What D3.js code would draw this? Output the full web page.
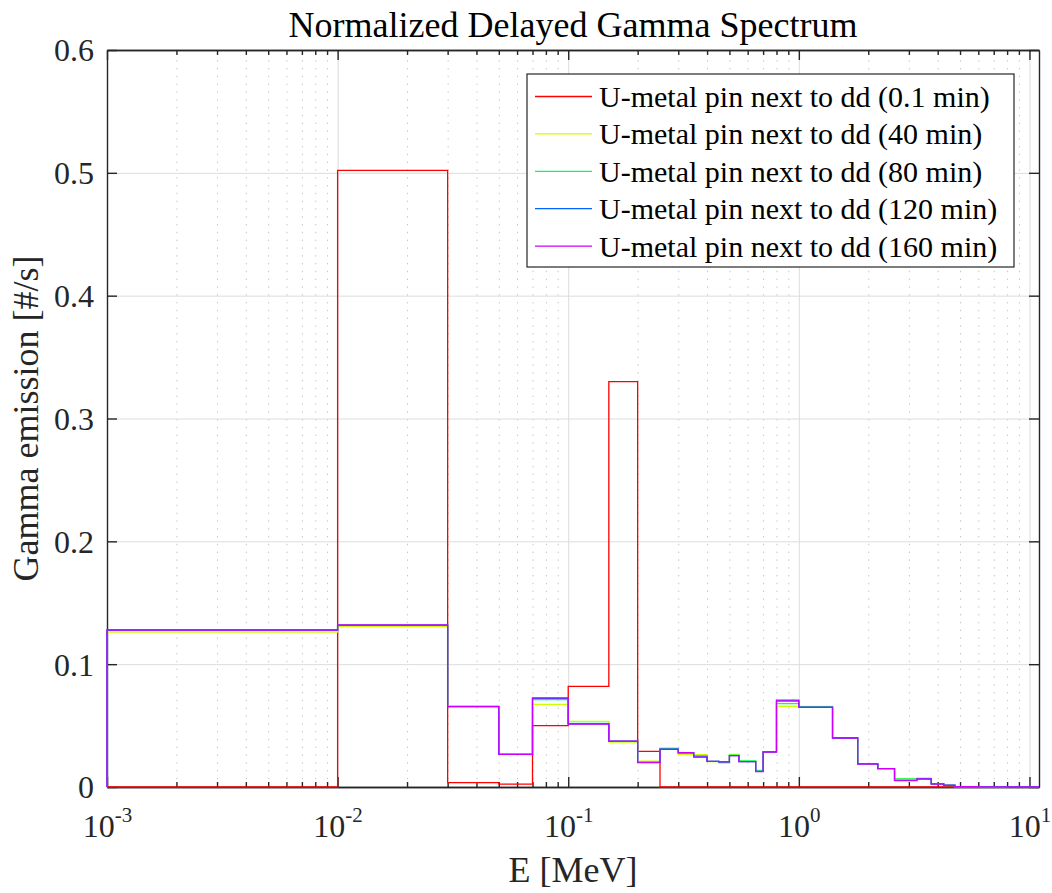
<!DOCTYPE html>
<html>
<head>
<meta charset="utf-8">
<script src="https://cdn.jsdelivr.net/npm/d3@7"></script>
<style>
  body { margin: 0; background: #fff; }
  svg { display: block; font-family: "Liberation Serif", "Times New Roman", serif; }
</style>
</head>
<body>
<svg id="chart" width="1052" height="893"></svg>
<script>
// Energy group boundaries [MeV]
const energyEdges = [0.001, 0.01, 0.03, 0.05, 0.07, 0.1, 0.15, 0.2, 0.25, 0.3, 0.35, 0.4, 0.45, 0.5,
  0.55, 0.65, 0.7, 0.8, 1.0, 1.4, 1.8, 2.2, 2.6, 3.25, 3.75, 4.25, 4.75, 6, 8, 11];

// Normalized delayed gamma emission per group, one array per cooling time
const pin01min = [0, 0.502, 0.0035, 0.0024, 0.0499, 0.082, 0.33, 0.029, 0, 0, 0, 0, 0, 0,
  0, 0, 0, 0, 0, 0, 0, 0, 0, 0, 0, 0, 0, 0, 0];
const pin40min = [0.1262, 0.1308, 0.0662, 0.0268, 0.0673, 0.0535, 0.0366, 0.0210, 0.0318, 0.0266, 0.0263, 0.0207, 0.0195, 0.0266,
  0.0210, 0.0138, 0.0287, 0.0657, 0.0657, 0.0402, 0.0190, 0.0150, 0.0065, 0.0070, 0.0025, 0.0014, 0.0003, 0.0001, 0];
const pin80min = [0.1277, 0.1315, 0.0657, 0.0267, 0.0712, 0.0518, 0.0372, 0.0203, 0.0312, 0.0275, 0.0256, 0.0209, 0.0200, 0.0260,
  0.0212, 0.0131, 0.0286, 0.0678, 0.0653, 0.0400, 0.0189, 0.0150, 0.0066, 0.0071, 0.0026, 0.0015, 0.0003, 0.0001, 0];
const pin120min = [0.1278, 0.1318, 0.0655, 0.0266, 0.0722, 0.0514, 0.0374, 0.0200, 0.0308, 0.0280, 0.0246, 0.0208, 0.0204, 0.0256,
  0.0207, 0.0127, 0.0286, 0.0700, 0.0650, 0.0399, 0.0188, 0.0149, 0.0054, 0.0066, 0.0025, 0.0016, 0.0003, 0.0001, 0];
const pin160min = [0.1278, 0.1319, 0.0654, 0.0266, 0.0725, 0.0513, 0.0374, 0.0199, 0.0307, 0.0279, 0.0244, 0.0209, 0.0204, 0.0255,
  0.0206, 0.0125, 0.0285, 0.0708, 0.0649, 0.0399, 0.0187, 0.0149, 0.0052, 0.0065, 0.0024, 0.0014, 0.0003, 0.0001, 0];

const seriesNames = [
  "U-metal pin next to dd (0.1 min)",
  "U-metal pin next to dd (40 min)",
  "U-metal pin next to dd (80 min)",
  "U-metal pin next to dd (120 min)",
  "U-metal pin next to dd (160 min)"
];
const seriesColors = ["#ff0000", "#ccff00", "#00ff66", "#0066ff", "#cc00ff"];
const seriesValues = [pin01min, pin40min, pin80min, pin120min, pin160min];

// Axis ticks
const xTickValues = [1e-3, 1e-2, 1e-1, 1, 10];
const xTickExponents = ["-3", "-2", "-1", "0", "1"];
const yTickValues = [0, 0.1, 0.2, 0.3, 0.4, 0.5, 0.6];
const yTickLabels = ["0", "0.1", "0.2", "0.3", "0.4", "0.5", "0.6"];

const titleText = "Normalized Delayed Gamma Spectrum";
const xLabelText = "E [MeV]";
const yLabelText = "Gamma emission [#/s]";

// Layout
const svg = d3.select("#chart");
const margin = { left: 107, top: 50, right: 13, bottom: 106 };
const W = 1052, H = 893;
const w = W - margin.left - margin.right;
const h = H - margin.top - margin.bottom;
const axisColor = "#262626";

const x = d3.scaleLog().domain([1e-3, 11]).range([0, w]);
const y = d3.scaleLinear().domain([0, 0.6]).range([h, 0]);

const minorX = [];
for (let d = -3; d <= 0; d++) for (let m = 2; m <= 9; m++) minorX.push(m * Math.pow(10, d));

const g = svg.append("g").attr("transform", `translate(${margin.left},${margin.top})`);

// Grid: dotted minor lines on x, solid major lines on both axes
g.append("g")
  .attr("transform", `translate(0,${h})`)
  .call(d3.axisBottom(x).tickValues(minorX).tickSize(-h).tickFormat(""))
  .call(s => s.select(".domain").remove())
  .call(s => s.selectAll("line").attr("stroke", "#c4c4c4").attr("stroke-width", 1)
    .attr("stroke-dasharray", "1.4 6.4"));
g.append("g")
  .attr("transform", `translate(0,${h})`)
  .call(d3.axisBottom(x).tickValues(xTickValues).tickSize(-h).tickFormat(""))
  .call(s => s.select(".domain").remove())
  .call(s => s.selectAll("line").attr("stroke", "#dcdcdc").attr("stroke-width", 1));
g.append("g")
  .call(d3.axisLeft(y).tickValues(yTickValues).tickSize(-w).tickFormat(""))
  .call(s => s.select(".domain").remove())
  .call(s => s.selectAll("line").attr("stroke", "#dcdcdc").attr("stroke-width", 1));

// Axes (ticks point inward, box on all four sides)
function styleAxis(s) {
  s.select(".domain").attr("stroke", axisColor).attr("stroke-width", 1.4);
  s.selectAll(".tick line").attr("stroke", axisColor).attr("stroke-width", 1.4);
}
const bottomMajor = g.append("g").attr("transform", `translate(0,${h})`)
  .call(d3.axisBottom(x).tickValues(xTickValues).tickSize(-10).tickSizeOuter(0).tickPadding(14)
    .tickFormat(() => ""))
  .call(styleAxis);
g.append("g").attr("transform", `translate(0,${h})`)
  .call(d3.axisBottom(x).tickValues(minorX).tickSize(-5).tickSizeOuter(0).tickFormat(""))
  .call(styleAxis);
g.append("g")
  .call(d3.axisTop(x).tickValues(xTickValues).tickSize(-10).tickSizeOuter(0).tickFormat(""))
  .call(styleAxis);
g.append("g")
  .call(d3.axisTop(x).tickValues(minorX).tickSize(-5).tickSizeOuter(0).tickFormat(""))
  .call(styleAxis);
const leftAxis = g.append("g")
  .call(d3.axisLeft(y).tickValues(yTickValues).tickSize(-10).tickSizeOuter(0).tickPadding(13)
    .tickFormat((d, i) => yTickLabels[i]))
  .call(styleAxis);
g.append("g").attr("transform", `translate(${w},0)`)
  .call(d3.axisRight(y).tickValues(yTickValues).tickSize(-10).tickSizeOuter(0).tickFormat(""))
  .call(styleAxis);

leftAxis.selectAll(".tick text")
  .attr("font-family", "Liberation Serif, serif").attr("font-size", 32).attr("fill", axisColor)
  .attr("dy", "0.34em");

// Decade labels as 10 with a superscript exponent
bottomMajor.selectAll(".tick text")
  .attr("font-family", "Liberation Serif, serif").attr("font-size", 32).attr("fill", axisColor)
  .attr("y", 50).attr("dy", null)
  .each(function (d, i) {
    const t = d3.select(this);
    t.text(null);
    t.append("tspan").text("10");
    t.append("tspan").attr("font-size", 21).attr("dy", -15).text(xTickExponents[i]);
  });

// Stair lines for each cooling time
const line = d3.line()
  .x(d => x(d[0]))
  .y(d => y(d[1]))
  .curve(d3.curveStepAfter);

seriesValues.forEach((vals, k) => {
  const pts = [[energyEdges[0], 0]];
  vals.forEach((v, i) => pts.push([energyEdges[i], v]));
  pts.push([energyEdges[energyEdges.length - 1], vals[vals.length - 1]]);
  g.append("path")
    .datum(pts)
    .attr("fill", "none")
    .attr("stroke", seriesColors[k])
    .attr("stroke-width", 1.3)
    .attr("d", line);
});

// Title and axis labels
svg.append("text")
  .attr("x", margin.left + w / 2).attr("y", 37)
  .attr("text-anchor", "middle").attr("font-size", 36).attr("fill", "#000")
  .text(titleText);
svg.append("text")
  .attr("x", margin.left + w / 2).attr("y", 882)
  .attr("text-anchor", "middle").attr("font-size", 36).attr("fill", axisColor)
  .text(xLabelText);
svg.append("text")
  .attr("transform", `translate(38,${margin.top + h / 2}) rotate(-90)`)
  .attr("text-anchor", "middle").attr("font-size", 36).attr("fill", axisColor)
  .text(yLabelText);

// Legend
const legend = svg.append("g").attr("transform", "translate(527,74)");
legend.append("rect")
  .attr("width", 487).attr("height", 193)
  .attr("fill", "#fff").attr("stroke", axisColor).attr("stroke-width", 1.2);
seriesNames.forEach((name, k) => {
  const cy = 22.5 + k * 37.4;
  legend.append("line")
    .attr("x1", 8).attr("x2", 65).attr("y1", cy).attr("y2", cy)
    .attr("stroke", seriesColors[k]).attr("stroke-width", 1.3);
  legend.append("text")
    .attr("x", 72).attr("y", cy + 10.5)
    .attr("font-size", 30).attr("fill", "#000")
    .text(name);
});
</script>
</body>
</html>
